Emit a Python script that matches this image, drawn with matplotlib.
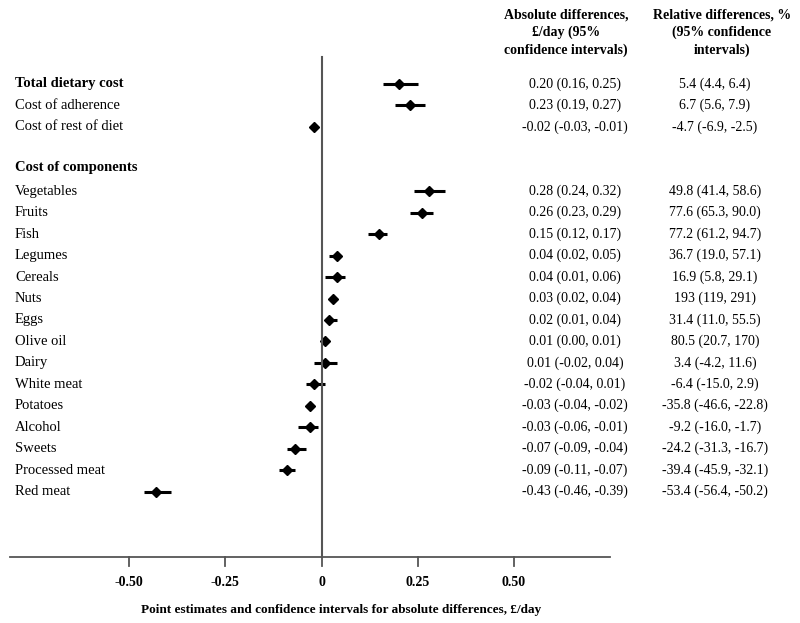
import numpy as np
import matplotlib.pyplot as plt

plt.rcParams['font.family'] = ['Liberation Serif', 'DejaVu Serif']

# summary rows
summary_labels = ['Cost of adherence', 'Cost of rest of diet']
total_est, total_lo, total_hi = 0.20, 0.16, 0.25
total_rel = '5.4 (4.4, 6.4)'
summary_est = [0.23, -0.02]
summary_lo = [0.19, -0.03]
summary_hi = [0.27, -0.01]
summary_rel = ['6.7 (5.6, 7.9)', '-4.7 (-6.9, -2.5)']

# component rows
components = ['Vegetables', 'Fruits', 'Fish', 'Legumes', 'Cereals', 'Nuts', 'Eggs',
              'Olive oil', 'Dairy', 'White meat', 'Potatoes', 'Alcohol', 'Sweets',
              'Processed meat', 'Red meat']
comp_est = [0.28, 0.26, 0.15, 0.04, 0.04, 0.03, 0.02, 0.01, 0.01, -0.02, -0.03, -0.03, -0.07, -0.09, -0.43]
comp_lo = [0.24, 0.23, 0.12, 0.02, 0.01, 0.02, 0.01, 0.00, -0.02, -0.04, -0.04, -0.06, -0.09, -0.11, -0.46]
comp_hi = [0.32, 0.29, 0.17, 0.05, 0.06, 0.04, 0.04, 0.01, 0.04, 0.01, -0.02, -0.01, -0.04, -0.07, -0.39]
comp_rel = ['49.8 (41.4, 58.6)', '77.6 (65.3, 90.0)', '77.2 (61.2, 94.7)', '36.7 (19.0, 57.1)',
            '16.9 (5.8, 29.1)', '193 (119, 291)', '31.4 (11.0, 55.5)', '80.5 (20.7, 170)',
            '3.4 (-4.2, 11.6)', '-6.4 (-15.0, 2.9)', '-35.8 (-46.6, -22.8)', '-9.2 (-16.0, -1.7)',
            '-24.2 (-31.3, -16.7)', '-39.4 (-45.9, -32.1)', '-53.4 (-56.4, -50.2)']

xticks = [-0.50, -0.25, 0, 0.25, 0.50]
xtick_labels = ['-0.50', '-0.25', '0', '0.25', '0.50']


def fmt_abs(e, lo, hi):
    return '%.2f (%.2f, %.2f)' % (e, lo, hi)


# one axes over the whole figure; y runs in pixel rows, x in £/day
fig = plt.figure(figsize=(8, 6.23), dpi=100)
ax = fig.add_axes([0, 0, 1, 1])
ax.set_axis_off()
zero_px, px_per_unit = 321.5, 385.0
ax.set_xlim(-zero_px / px_per_unit, (800 - zero_px) / px_per_unit)
ax.set_ylim(623, 0)
px = lambda p: (p - zero_px) / px_per_unit

row_top, row_h = 84, 21.45
est = [total_est] + summary_est + comp_est
lo = [total_lo] + summary_lo + comp_lo
hi = [total_hi] + summary_hi + comp_hi
rel = [total_rel] + summary_rel + comp_rel
labels = ['Total dietary cost'] + summary_labels + components
idx = [0, 1, 2] + [5 + j for j in range(len(components))]
ys = [row_top + i * row_h for i in idx]

ax.hlines(ys, lo, hi, color='black', lw=2.2)
ax.plot(est, ys, 'D', color='black', ms=4.8)

# axis and zero line
axis_y = 557
ax.plot([px(10), px(610)], [axis_y, axis_y], color='#555555', lw=1.3)
ax.plot([0, 0], [57, axis_y], color='#555555', lw=1.5)
for t, tl in zip(xticks, xtick_labels):
    ax.plot([t, t], [axis_y, axis_y + 9], color='#555555', lw=1.3)
    ax.text(t, 583, tl, ha='center', va='center', fontsize=10, fontweight='bold')
ax.text(px(341), 610, 'Point estimates and confidence intervals for absolute differences, £/day',
        ha='center', va='center', fontsize=9.5, fontweight='bold')

# labels and text columns
for lab, y, i in zip(labels, ys, idx):
    ax.text(px(15), y, lab, ha='left', va='center', fontsize=10.5,
            fontweight='bold' if i == 0 else 'normal')
ax.text(px(15), row_top + 3.9 * row_h, 'Cost of components', ha='left', va='center',
        fontsize=10.5, fontweight='bold')
for e, l, h, r, y in zip(est, lo, hi, rel, ys):
    ax.text(px(575), y, fmt_abs(e, l, h), ha='center', va='center', fontsize=10)
    ax.text(px(715), y, r, ha='center', va='center', fontsize=10)

ax.text(px(566), 9, 'Absolute differences,\n£/day (95%\nconfidence intervals)', ha='center',
        va='top', fontsize=10, fontweight='bold', linespacing=1.38)
ax.text(px(722), 9, 'Relative differences, %\n(95% confidence\nintervals)', ha='center',
        va='top', fontsize=10, fontweight='bold', linespacing=1.38)

fig.savefig('out.png', dpi=100)
